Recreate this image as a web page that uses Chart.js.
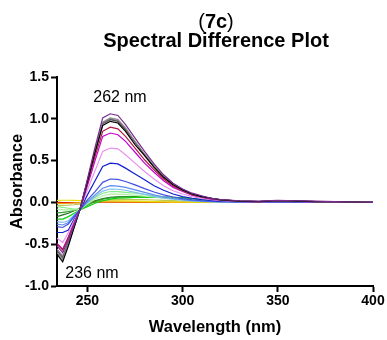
<!DOCTYPE html>
<html>
<head>
<meta charset="utf-8">
<script src="https://cdn.jsdelivr.net/npm/chart.js@4/dist/chart.umd.min.js"></script>
<style>
  html, body { margin: 0; padding: 0; background: #fff; }
  #wrap { width: 387px; height: 340px; }
</style>
</head>
<body>
<div id="wrap"><canvas id="c" width="387" height="340"></canvas></div>
<script>
// Wavelengths (nm)
const wavelengths = [234, 237, 240, 243, 246, 250, 254, 258, 262, 266, 270, 275, 280, 285, 290, 295, 300, 305, 310, 315, 320, 330, 340, 350, 360, 370, 380, 390, 400];

// Difference spectra (absorbance), listed bottom layer to top layer
const red       = [0.000, -0.002, -0.003, -0.003, -0.002, 0.000, 0.001, 0.002, 0.002, 0.002, 0.002, 0.001, 0.001, 0.001, 0.000, 0.000, 0.000, 0.000, 0.000, 0.000, 0.000, 0.000, 0.000, 0.000, 0.000, 0.000, 0.000, 0.000, 0.000];
const orange    = [-0.012, -0.012, -0.010, -0.006, -0.002, 0.002, 0.005, 0.006, 0.006, 0.006, 0.005, 0.004, 0.003, 0.002, 0.002, 0.001, 0.001, 0.001, 0.000, 0.000, 0.000, 0.000, 0.000, 0.000, 0.000, 0.000, 0.000, 0.000, 0.000];
const yellow    = [0.025, 0.026, 0.026, 0.025, 0.022, 0.020, 0.020, 0.020, 0.020, 0.019, 0.018, 0.015, 0.012, 0.010, 0.008, 0.006, 0.005, 0.004, 0.003, 0.002, 0.002, 0.001, 0.001, 0.001, 0.000, 0.000, 0.000, 0.000, 0.000];
const olive     = [-0.035, -0.035, -0.033, -0.028, -0.020, -0.005, 0.010, 0.022, 0.030, 0.034, 0.035, 0.034, 0.032, 0.029, 0.025, 0.021, 0.017, 0.013, 0.010, 0.007, 0.005, 0.003, 0.002, 0.003, 0.002, 0.001, 0.001, 0.000, 0.000];
const darkGreen = [-0.170, -0.150, -0.130, -0.100, -0.070, -0.020, 0.020, 0.045, 0.060, 0.065, 0.070, 0.070, 0.070, 0.068, 0.065, 0.060, 0.053, 0.045, 0.035, 0.027, 0.020, 0.010, 0.005, 0.006, 0.004, 0.003, 0.002, 0.001, 0.000];
const midGreen  = [-0.125, -0.120, -0.110, -0.095, -0.080, -0.035, 0.010, 0.040, 0.055, 0.062, 0.066, 0.067, 0.066, 0.064, 0.061, 0.057, 0.051, 0.043, 0.034, 0.026, 0.019, 0.009, 0.005, 0.006, 0.004, 0.003, 0.002, 0.001, 0.000];
const green     = [-0.200, -0.200, -0.170, -0.130, -0.090, -0.050, -0.010, 0.020, 0.040, 0.050, 0.055, 0.060, 0.060, 0.060, 0.058, 0.055, 0.050, 0.042, 0.033, 0.025, 0.018, 0.008, 0.004, 0.005, 0.003, 0.002, 0.001, 0.000, 0.000];
const paleGreen = [-0.080, -0.090, -0.090, -0.090, -0.080, -0.020, 0.040, 0.080, 0.100, 0.100, 0.095, 0.085, 0.075, 0.065, 0.050, 0.040, 0.030, 0.022, 0.015, 0.010, 0.007, 0.004, 0.002, 0.004, 0.003, 0.002, 0.001, 0.000, 0.000];
const lightGreen= [-0.050, -0.060, -0.070, -0.080, -0.080, -0.010, 0.060, 0.110, 0.130, 0.130, 0.120, 0.110, 0.095, 0.080, 0.065, 0.050, 0.040, 0.030, 0.020, 0.015, 0.010, 0.005, 0.003, 0.005, 0.003, 0.002, 0.001, 0.000, 0.000];
const lightBlue = [-0.230, -0.240, -0.220, -0.150, -0.090, 0.000, 0.070, 0.135, 0.160, 0.157, 0.145, 0.120, 0.096, 0.072, 0.052, 0.038, 0.027, 0.018, 0.012, 0.008, 0.006, 0.003, 0.002, 0.003, 0.002, 0.001, 0.001, 0.000, 0.000];
const cornflower= [-0.260, -0.270, -0.240, -0.160, -0.090, 0.010, 0.090, 0.170, 0.200, 0.195, 0.180, 0.150, 0.120, 0.090, 0.065, 0.047, 0.033, 0.022, 0.015, 0.010, 0.007, 0.004, 0.002, 0.004, 0.003, 0.002, 0.001, 0.000, 0.000];
const royalBlue = [-0.290, -0.300, -0.260, -0.170, -0.090, 0.030, 0.130, 0.240, 0.280, 0.275, 0.250, 0.210, 0.165, 0.125, 0.090, 0.065, 0.045, 0.030, 0.020, 0.015, 0.010, 0.005, 0.003, 0.006, 0.004, 0.003, 0.002, 0.001, 0.000];
const blue      = [-0.360, -0.360, -0.330, -0.200, -0.090, 0.090, 0.260, 0.430, 0.470, 0.460, 0.410, 0.340, 0.270, 0.200, 0.145, 0.100, 0.070, 0.050, 0.034, 0.024, 0.015, 0.008, 0.005, 0.010, 0.007, 0.005, 0.004, 0.002, 0.000];
const orchid    = [-0.430, -0.480, -0.360, -0.220, -0.090, 0.150, 0.380, 0.610, 0.650, 0.640, 0.570, 0.470, 0.370, 0.280, 0.200, 0.140, 0.100, 0.070, 0.047, 0.033, 0.020, 0.010, 0.007, 0.013, 0.010, 0.007, 0.005, 0.003, 0.000];
const magenta   = [-0.490, -0.560, -0.410, -0.250, -0.090, 0.200, 0.500, 0.790, 0.830, 0.810, 0.730, 0.600, 0.470, 0.360, 0.260, 0.180, 0.130, 0.085, 0.060, 0.040, 0.026, 0.013, 0.009, 0.017, 0.013, 0.009, 0.007, 0.004, 0.000];
const crimson   = [-0.500, -0.570, -0.420, -0.250, -0.090, 0.230, 0.550, 0.850, 0.900, 0.880, 0.790, 0.650, 0.510, 0.390, 0.280, 0.195, 0.140, 0.090, 0.065, 0.045, 0.030, 0.015, 0.010, 0.018, 0.014, 0.010, 0.008, 0.004, 0.000];
const mauve     = [-0.560, -0.640, -0.480, -0.280, -0.090, 0.260, 0.620, 0.950, 1.000, 0.980, 0.880, 0.720, 0.570, 0.430, 0.310, 0.220, 0.150, 0.100, 0.070, 0.050, 0.030, 0.015, 0.010, 0.020, 0.015, 0.010, 0.010, 0.005, 0.000];
const darkGray  = [-0.580, -0.660, -0.490, -0.290, -0.090, 0.260, 0.610, 0.940, 0.990, 0.970, 0.870, 0.720, 0.570, 0.430, 0.310, 0.220, 0.150, 0.100, 0.070, 0.050, 0.030, 0.015, 0.010, 0.020, 0.015, 0.010, 0.010, 0.005, 0.000];
const gray      = [-0.600, -0.680, -0.500, -0.290, -0.090, 0.260, 0.620, 0.960, 1.010, 0.990, 0.890, 0.730, 0.580, 0.440, 0.310, 0.220, 0.150, 0.100, 0.070, 0.050, 0.030, 0.015, 0.010, 0.020, 0.015, 0.010, 0.010, 0.005, 0.000];
const black     = [-0.620, -0.710, -0.520, -0.300, -0.090, 0.250, 0.600, 0.920, 0.970, 0.950, 0.850, 0.690, 0.560, 0.420, 0.300, 0.210, 0.150, 0.100, 0.070, 0.050, 0.030, 0.015, 0.010, 0.020, 0.015, 0.010, 0.010, 0.005, 0.000];
const purple    = [-0.520, -0.600, -0.450, -0.270, -0.090, 0.280, 0.660, 1.010, 1.060, 1.040, 0.930, 0.770, 0.610, 0.460, 0.330, 0.230, 0.160, 0.110, 0.080, 0.050, 0.035, 0.020, 0.015, 0.025, 0.020, 0.015, 0.010, 0.005, 0.000];

const seriesList = [
  [red, '#e00000'], [orange, '#f0a000'], [yellow, '#e8e000'], [olive, '#b8c858'],
  [darkGreen, '#1e6e1e'], [midGreen, '#30a030'], [green, '#10d010'], [paleGreen, '#b0f0a0'],
  [lightGreen, '#88ec88'], [lightBlue, '#80c0f0'], [cornflower, '#5a8cf0'], [royalBlue, '#4050e0'],
  [blue, '#1020d0'], [orchid, '#e890f0'], [magenta, '#c800d0'], [crimson, '#b01848'],
  [mauve, '#9c7ca0'], [darkGray, '#505050'], [gray, '#8a8a8a'], [black, '#000000'], [purple, '#7a2a90']
];

const xTicks = [250, 300, 350, 400];
const yTicks = [-1.0, -0.5, 0.0, 0.5, 1.0, 1.5];

// Chart.js draws dataset 0 on top, so reverse to put the dark curves on top
const datasets = seriesList.slice().reverse().map(([vals, col]) => ({
  data: wavelengths.map((w, i) => ({ x: w, y: vals[i] })),
  borderColor: col,
  borderWidth: 1.2,
  pointRadius: 0,
  tension: 0,
  fill: false
}));

const FONT = '"Liberation Sans", Arial, sans-serif';

const textPlugin = {
  id: 'texts',
  afterDraw(chart) {
    const ctx = chart.ctx;
    const ca = chart.chartArea;
    ctx.save();
    ctx.fillStyle = '#000';
    ctx.textBaseline = 'middle';
    // title line 1: (7c) with bold 7c
    const mid = '7c';
    ctx.font = '20px ' + FONT;
    const wp = ctx.measureText('(').width;
    const wq = ctx.measureText(')').width;
    ctx.font = 'bold 20px ' + FONT;
    const wm = ctx.measureText(mid).width;
    const total = wp + wm + wq;
    const x0 = 216 - total / 2;
    ctx.textAlign = 'left';
    ctx.font = '20px ' + FONT;
    ctx.fillText('(', x0, 22);
    ctx.font = 'bold 20px ' + FONT;
    ctx.fillText(mid, x0 + wp, 22);
    ctx.font = '20px ' + FONT;
    ctx.fillText(')', x0 + wp + wm, 22);
    // title line 2
    ctx.textAlign = 'center';
    ctx.font = 'bold 20px ' + FONT;
    ctx.fillText('Spectral Difference Plot', 216, 41);
    // axis titles
    ctx.font = 'bold 16.5px ' + FONT;
    ctx.fillText('Wavelength (nm)', (ca.left + ca.right) / 2, 327);
    ctx.save();
    ctx.translate(17, (ca.top + ca.bottom) / 2);
    ctx.rotate(-Math.PI / 2);
    ctx.fillText('Absorbance', 0, 0);
    ctx.restore();
    // annotations
    ctx.font = '16px ' + FONT;
    ctx.fillText('262 nm', 120, 98);
    ctx.fillText('236 nm', 92, 274);
    ctx.restore();
  }
};

new Chart(document.getElementById('c'), {
  type: 'line',
  data: { datasets },
  plugins: [textPlugin],
  options: {
    responsive: false,
    animation: false,
    layout: { padding: { top: 77, right: 14, left: 0, bottom: 0 } },
    plugins: { legend: { display: false }, title: { display: false }, tooltip: { enabled: false } },
    scales: {
      x: {
        type: 'linear',
        min: 234, max: 400,
        afterBuildTicks: s => { s.ticks = xTicks.map(v => ({ value: v })); },
        afterFit: s => { s.height = 54; },
        border: { display: true, color: '#000', width: 2 },
        grid: { drawOnChartArea: false, drawTicks: true, tickLength: 6, tickColor: '#000', tickWidth: 2 },
        ticks: { color: '#000', padding: 1, maxRotation: 0, font: { family: FONT, size: 14, weight: 'bold' } }
      },
      y: {
        min: -1.0, max: 1.5,
        afterBuildTicks: s => { s.ticks = yTicks.map(v => ({ value: v })); },
        afterFit: s => { s.width = 57; },
        border: { display: true, color: '#000', width: 2 },
        grid: { drawOnChartArea: false, drawTicks: true, tickLength: 6, tickColor: '#000', tickWidth: 2 },
        ticks: { color: '#000', padding: 2, font: { family: FONT, size: 14, weight: 'bold' },
                 callback: v => Number(v).toFixed(1) }
      }
    }
  }
});
</script>
</body>
</html>
